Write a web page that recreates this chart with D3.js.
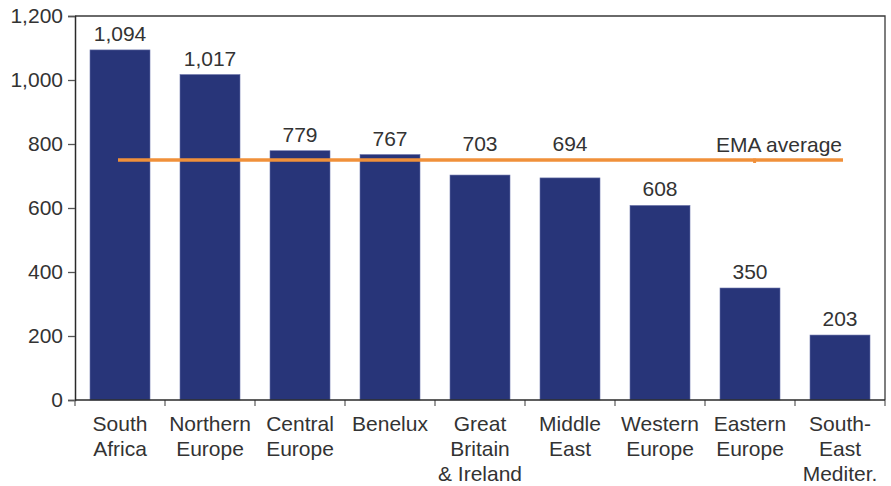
<!DOCTYPE html>
<html>
<head>
<meta charset="utf-8">
<script src="https://cdn.jsdelivr.net/npm/d3@7"></script>
<style>
  html, body { margin: 0; padding: 0; background: #fff; }
  svg text { font-family: "Liberation Sans", Arial, sans-serif; fill: #333; }
</style>
</head>
<body>
<svg id="chart" width="891" height="486"></svg>
<script>
// Regions, one entry per bar (label lines split on "|")
const categories = [
  "South|Africa", "Northern|Europe", "Central|Europe", "Benelux",
  "Great|Britain|& Ireland", "Middle|East", "Western|Europe",
  "Eastern|Europe", "South-|East|Mediter."
];
const values = [1094, 1017, 779, 767, 703, 694, 608, 350, 203];
const emaAverage = 750;
const emaLabel = "EMA average";
const yTicks = [0, 200, 400, 600, 800, 1000, 1200];

const svg = d3.select("#chart");
const margin = { left: 75, right: 6, top: 16, bottom: 86 };
const W = 891, H = 486;
const innerW = W - margin.left - margin.right;
const innerH = H - margin.top - margin.bottom;

const x = d3.scaleBand()
  .domain(categories)
  .range([margin.left, margin.left + innerW])
  .paddingInner(1 / 3)
  .paddingOuter(1 / 6);

const y = d3.scaleLinear()
  .domain([0, 1200])
  .range([margin.top + innerH, margin.top]);

const fmt = d3.format(",");
const fontSize = 21;

// Bars
svg.append("g").selectAll("rect")
  .data(values)
  .join("rect")
  .attr("x", (d, i) => x(categories[i]))
  .attr("y", d => y(d))
  .attr("width", x.bandwidth())
  .attr("height", d => y(0) - y(d))
  .attr("fill", "#283579")
  .attr("stroke", "#6a73aa")
  .attr("stroke-width", 0.6);

// EMA average line
const lineY = y(emaAverage);
const lx0 = x(categories[0]) + x.bandwidth() / 2 - 2;
const lx1 = x(categories[categories.length - 1]) + x.bandwidth() / 2 + 3;
svg.append("line")
  .attr("x1", lx0).attr("x2", lx1)
  .attr("y1", lineY).attr("y2", lineY)
  .attr("stroke", "#f0903a")
  .attr("stroke-width", 3.5);
svg.append("rect")
  .attr("x", lx0 + (lx1 - lx0) * 0.876)
  .attr("y", lineY - 1.5)
  .attr("width", 3).attr("height", 4.5)
  .attr("fill", "#f0903a");
svg.append("text")
  .attr("x", lx1 - 1)
  .attr("y", lineY - 8)
  .attr("text-anchor", "end")
  .attr("font-size", fontSize)
  .text(emaLabel);

// Value labels; those just under the average line sit above it
svg.append("g").selectAll("text")
  .data(values)
  .join("text")
  .attr("x", (d, i) => x(categories[i]) + x.bandwidth() / 2)
  .attr("y", d => {
    const top = y(d);
    const base = (top > lineY && top - lineY < 30) ? lineY : top;
    return base - 9;
  })
  .attr("text-anchor", "middle")
  .attr("font-size", fontSize)
  .text(d => fmt(d));

// Frame (top and right)
svg.append("path")
  .attr("d", `M${margin.left},${margin.top}H${margin.left + innerW}V${y(0)}`)
  .attr("fill", "none")
  .attr("stroke", "#3a3a3a")
  .attr("stroke-width", 1.3);

// Y axis
const yAxis = svg.append("g")
  .attr("transform", `translate(${margin.left},0)`)
  .call(d3.axisLeft(y).tickValues(yTicks).tickFormat(fmt).tickSize(7).tickPadding(5));
yAxis.select(".domain").attr("stroke", "#2a2a2a").attr("stroke-width", 1.5);
yAxis.selectAll(".tick line").attr("stroke", "#555").attr("stroke-width", 1.3);
yAxis.selectAll(".tick text")
  .attr("font-size", fontSize)
  .attr("font-family", "Liberation Sans, Arial, sans-serif")
  .attr("fill", "#333");

// X axis baseline and boundary ticks
const boundaries = categories.map(c => x(c) - x.step() * x.paddingInner() / 2)
  .concat([margin.left + innerW]);
svg.append("g").selectAll("line")
  .data(boundaries)
  .join("line")
  .attr("x1", d => d).attr("x2", d => d)
  .attr("y1", y(0)).attr("y2", y(0) + 6)
  .attr("stroke", "#666")
  .attr("stroke-width", 1.3);
svg.append("line")
  .attr("x1", margin.left).attr("x2", margin.left + innerW)
  .attr("y1", y(0)).attr("y2", y(0))
  .attr("stroke", "#2a2a2a")
  .attr("stroke-width", 1.5);

// Category labels
const catG = svg.append("g").selectAll("text")
  .data(categories)
  .join("text")
  .attr("text-anchor", "middle")
  .attr("font-size", fontSize)
  .attr("x", d => x(d) + x.bandwidth() / 2)
  .attr("y", y(0) + 31);
catG.selectAll("tspan")
  .data(d => d.split("|").map(t => ({ t, x: x(d) + x.bandwidth() / 2 })))
  .join("tspan")
  .attr("x", d => d.x)
  .attr("dy", (d, i) => i === 0 ? 0 : 25)
  .text(d => d.t);
</script>
</body>
</html>
